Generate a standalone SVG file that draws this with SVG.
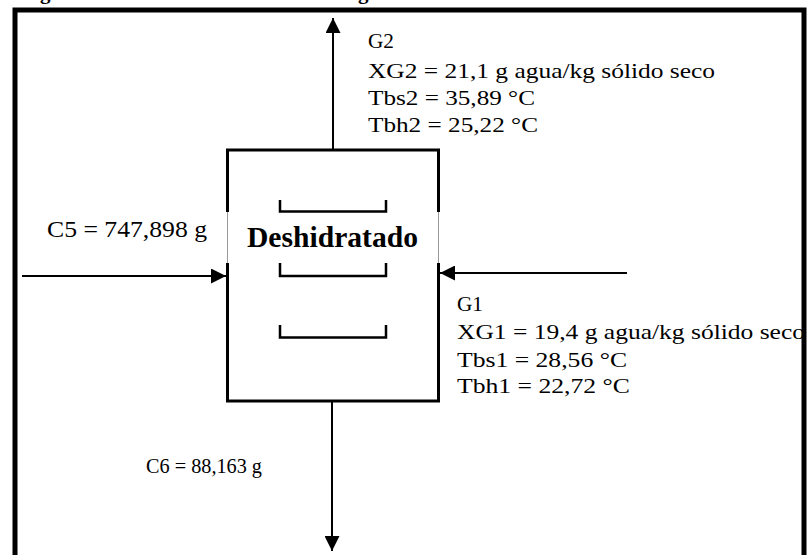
<svg xmlns="http://www.w3.org/2000/svg" width="807" height="555" viewBox="0 0 807 555">
<style>
  .t { font-family: "Liberation Serif", "Times New Roman", serif; fill: #000; }
  .ln { stroke: #000; stroke-width: 2; fill: none; }
  .br { stroke: #000; stroke-width: 2.5; fill: none; }
</style>
<defs>
  <marker id="ah" markerUnits="userSpaceOnUse" markerWidth="15" markerHeight="15" viewBox="0 0 14 14" refX="14" refY="7" orient="auto">
    <path d="M0,0 L14,7 L0,14 z" fill="#000"/>
  </marker>
</defs>
<rect width="807" height="555" fill="#fff"/>
<text class="t" x="40" y="-1" font-size="21" font-weight="bold">g</text>
<text class="t" x="358" y="-1" font-size="21" font-weight="bold">g</text>
<path d="M15,560 V10 H804 V560" fill="none" stroke="#000" stroke-width="5"/>
<g id="connectors">
  <line class="ln" x1="333" y1="149" x2="333" y2="18" marker-end="url(#ah)"/>
  <line class="ln" x1="22" y1="276" x2="226" y2="276" marker-end="url(#ah)"/>
  <line class="ln" x1="627" y1="273" x2="440" y2="273" marker-end="url(#ah)"/>
  <line class="ln" x1="332" y1="402" x2="332" y2="551" marker-end="url(#ah)"/>
</g>
<g id="deshidratado">
  <rect x="227.5" y="150" width="211" height="251" fill="#fff" stroke="#000" stroke-width="3"/>
  <rect x="226" y="212" width="214" height="51" fill="#fff"/>
  <line x1="227.5" y1="212" x2="227.5" y2="263" stroke="#999" stroke-width="1"/>
  <line x1="438.5" y1="212" x2="438.5" y2="263" stroke="#999" stroke-width="1"/>
  <path class="br" d="M280,200 V211.5 H386 V200"/>
  <path class="br" d="M280,263 V276 H386 V263"/>
  <path class="br" d="M280,325 V337.5 H386 V325"/>
  <text class="t" x="247" y="247" font-size="29" font-weight="bold" textLength="171" lengthAdjust="spacingAndGlyphs">Deshidratado</text>
</g>
<g id="g2">
  <text class="t" x="368" y="48" font-size="22" textLength="26" lengthAdjust="spacingAndGlyphs">G2</text>
  <text class="t" x="368" y="78" font-size="22" textLength="347" lengthAdjust="spacingAndGlyphs">XG2 = 21,1 g agua/kg sólido seco</text>
  <text class="t" x="368" y="105" font-size="22" textLength="167" lengthAdjust="spacingAndGlyphs">Tbs2 = 35,89 °C</text>
  <text class="t" x="368" y="132" font-size="22" textLength="170" lengthAdjust="spacingAndGlyphs">Tbh2 = 25,22 °C</text>
</g>
<g id="g1">
  <text class="t" x="457" y="311" font-size="22" textLength="26" lengthAdjust="spacingAndGlyphs">G1</text>
  <text class="t" x="457" y="339" font-size="22" textLength="348" lengthAdjust="spacingAndGlyphs">XG1 = 19,4 g agua/kg sólido seco</text>
  <text class="t" x="457" y="367" font-size="22" textLength="170" lengthAdjust="spacingAndGlyphs">Tbs1 = 28,56 °C</text>
  <text class="t" x="457" y="393" font-size="22" textLength="173" lengthAdjust="spacingAndGlyphs">Tbh1 = 22,72 °C</text>
</g>
<g id="c5">
  <text class="t" x="47" y="237" font-size="23" textLength="160" lengthAdjust="spacingAndGlyphs">C5 = 747,898 g</text>
</g>
<g id="c6">
  <text class="t" x="146" y="473" font-size="22" textLength="116" lengthAdjust="spacingAndGlyphs">C6 = 88,163 g</text>
</g>
</svg>
